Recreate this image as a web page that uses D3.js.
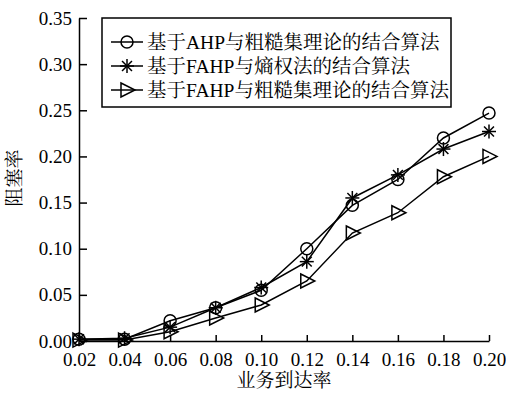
<!DOCTYPE html>
<html>
<head>
<meta charset="utf-8">
<style>
    body { margin: 0; background: #fff; }
    text { font-family: "Liberation Serif", "Noto Serif CJK SC", "Noto Sans CJK SC", serif; fill: #000; }
</style>
</head>
<body>
<svg id="chart"></svg>
<script src="https://cdn.jsdelivr.net/npm/d3@7"></script>
<script>
// data
var xValues = [0.02, 0.04, 0.06, 0.08, 0.10, 0.12, 0.14, 0.16, 0.18, 0.20]
var ahpRough = [0.002, 0.002, 0.022, 0.036, 0.055, 0.100, 0.147, 0.175, 0.220, 0.247]
var fahpEntropy = [0.002, 0.003, 0.015, 0.036, 0.058, 0.086, 0.155, 0.180, 0.208, 0.227]
var fahpRough = [0.001, 0.001, 0.010, 0.025, 0.039, 0.065, 0.117, 0.139, 0.178, 0.200]
var seriesNames = ["基于AHP与粗糙集理论的结合算法", "基于FAHP与熵权法的结合算法", "基于FAHP与粗糙集理论的结合算法"]
var seriesMarkers = ["circle", "star", "triangle"]
var yTicks = [0, 0.05, 0.10, 0.15, 0.20, 0.25, 0.30, 0.35]
var xLabel = "业务到达率"
var yLabel = "阻塞率"

var screen = {width: 506, height: 393}
var plot = {left: 79, right: 489, top: 18, bottom: 341}

var svg = d3.select("#chart").attr("width", screen.width).attr("height", screen.height)

var xScale = d3.scaleLinear().domain([0.02, 0.20]).range([plot.left, plot.right])
var yScale = d3.scaleLinear().domain([0, 0.35]).range([plot.bottom, plot.top])

// axes, ticks pointing inward
var xAxis = svg.append("g")
    .attr("transform", "translate(0," + plot.bottom + ")")
    .call(d3.axisBottom(xScale).tickValues(xValues).tickSizeInner(-6).tickSizeOuter(0).tickPadding(12).tickFormat(d3.format(".2f")))
var yAxis = svg.append("g")
    .attr("transform", "translate(" + plot.left + ",0)")
    .call(d3.axisLeft(yScale).tickValues(yTicks).tickSizeInner(-8).tickSizeOuter(0).tickPadding(7).tickFormat(d3.format(".2f")))
svg.selectAll(".domain, .tick line").attr("stroke", "#000").attr("stroke-width", 1.5)
svg.selectAll(".tick text").style("font-size", "19px").attr("fill", "#000")
xAxis.selectAll(".tick text").attr("dy", "0.71em")

svg.append("text")
    .attr("x", 284).attr("y", 387)
    .attr("text-anchor", "middle")
    .style("font-size", "19px")
    .text(xLabel)
svg.append("text")
    .attr("transform", "translate(21,178) rotate(-90)")
    .attr("text-anchor", "middle")
    .style("font-size", "19px")
    .text(yLabel)

function drawMarker(g, type) {
    if (type == "circle") {
        g.append("circle").attr("r", 6).attr("fill", "none").attr("stroke", "#000").attr("stroke-width", 1.5)
    } else if (type == "star") {
        for (var a = 0; a < 4; a++) {
            var ang = a * Math.PI / 4
            g.append("line")
                .attr("x1", -7 * Math.cos(ang)).attr("y1", -7 * Math.sin(ang))
                .attr("x2", 7 * Math.cos(ang)).attr("y2", 7 * Math.sin(ang))
                .attr("stroke", "#000").attr("stroke-width", 1.5)
        }
    } else {
        g.append("path").attr("d", "M-6,-7L8,0L-6,7Z").attr("fill", "none").attr("stroke", "#000").attr("stroke-width", 1.5)
    }
}

var allSeries = [ahpRough, fahpEntropy, fahpRough]
var line = d3.line()
    .x(function(d, i) { return xScale(xValues[i]) })
    .y(function(d) { return yScale(d) })

allSeries.forEach(function(values, s) {
    var g = svg.append("g")
    g.append("path").datum(values).attr("d", line)
        .attr("fill", "none").attr("stroke", "#000").attr("stroke-width", 1.5)
    g.selectAll("g.pt").data(values).enter().append("g")
        .attr("class", "pt")
        .attr("transform", function(d, i) { return "translate(" + xScale(xValues[i]) + "," + yScale(d) + ")" })
        .each(function() { drawMarker(d3.select(this), seriesMarkers[s]) })
})

// legend
var legend = svg.append("g")
legend.append("rect")
    .attr("x", 102).attr("y", 18).attr("width", 349).attr("height", 89)
    .attr("fill", "#fff").attr("stroke", "#000").attr("stroke-width", 1.5)
seriesNames.forEach(function(name, i) {
    var y = 42 + i * 24
    var row = legend.append("g").attr("transform", "translate(0," + y + ")")
    row.append("line").attr("x1", 111).attr("x2", 143).attr("y1", 0).attr("y2", 0)
        .attr("stroke", "#000").attr("stroke-width", 1.5)
    drawMarker(row.append("g").attr("transform", "translate(127,0)"), seriesMarkers[i])
    row.append("text").attr("x", 147).attr("y", 0).attr("dy", "0.35em")
        .style("font-size", "19.5px").text(name)
})
</script>
</body>
</html>
